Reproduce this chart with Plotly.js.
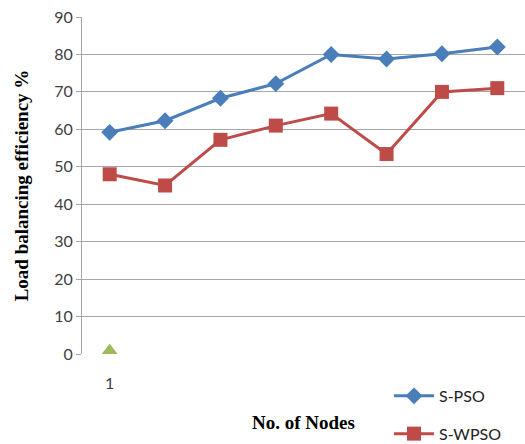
<!DOCTYPE html>
<html>
<head>
<meta charset="utf-8">
<script src="https://cdn.plot.ly/plotly-3.0.1.min.js"></script>
<style>html,body{margin:0;padding:0;background:#fff;}#chart{width:525px;height:444px;}</style>
</head>
<body>
<div id="chart"></div>
<script>
var nodes = [1, 2, 3, 4, 5, 6, 7, 8];
var spso = [59.2, 62.3, 68.3, 72.2, 80.0, 78.8, 80.2, 82.0];
var swpso = [48.0, 45.0, 57.2, 61.0, 64.2, 53.4, 70.0, 71.0];
var thirdX = [1];
var thirdY = [0.9];
var xTickVals = [1];
var xTickText = ['1'];
var yTickVals = [0, 10, 20, 30, 40, 50, 60, 70, 80, 90];

var traces = [
  {x: nodes, y: spso, name: 'S-PSO', type: 'scatter', mode: 'lines+markers',
   line: {color: '#4a7ebb', width: 3}, marker: {symbol: 'diamond', size: 13, color: '#4a7ebb'},
   legendgroup: 'a'},
  {x: nodes, y: swpso, name: 'S-WPSO', type: 'scatter', mode: 'lines+markers',
   line: {color: '#be4b48', width: 3}, marker: {symbol: 'square', size: 14, color: '#be4b48'},
   legendgroup: 'b'},
  {x: thirdX, y: thirdY, name: 'Series3', type: 'scatter', mode: 'markers',
   marker: {symbol: 'triangle-up', size: 14, color: '#9bbb59'}, showlegend: false}
];

var layout = {
  width: 525, height: 444,
  margin: {l: 82, r: 0, t: 17, b: 90, autoexpand: false},
  paper_bgcolor: '#ffffff', plot_bgcolor: '#ffffff',
  showlegend: true,
  legend: {x: 0.693, y: -0.074, xanchor: 'left', yanchor: 'top', traceorder: 'grouped',
           tracegroupgap: 14, font: {family: 'Lato, Open Sans, sans-serif', size: 16, color: '#222'},
           bgcolor: 'rgba(0,0,0,0)', itemwidth: 40},
  xaxis: {range: [0.5, 8.5], tickvals: xTickVals, ticktext: xTickText, ticks: '', showgrid: false,
          zeroline: false, showline: false, ticklabelstandoff: 18, automargin: false,
          tickfont: {family: 'Lato, Open Sans, sans-serif', size: 16, color: '#404040'},
          title: {text: '<b>No. of Nodes</b>', font: {family: 'Liberation Serif, serif', size: 19, color: '#000'}, standoff: 24}},
  yaxis: {range: [0, 90], tickvals: yTickVals, showgrid: true, gridcolor: '#a6a6a6', gridwidth: 1,
          zeroline: false, showline: true, linecolor: '#a6a6a6', linewidth: 1, automargin: false,
          ticks: 'outside', ticklen: 5, tickcolor: '#a6a6a6',
          tickfont: {family: 'Lato, Open Sans, sans-serif', size: 16, color: '#404040'},
          title: {text: '<b>Load balancing efficiency %</b>', font: {family: 'Liberation Serif, serif', size: 19, color: '#000'}, standoff: 20}}
};

Plotly.newPlot('chart', traces, layout, {displayModeBar: false, staticPlot: true});
</script>
</body>
</html>
